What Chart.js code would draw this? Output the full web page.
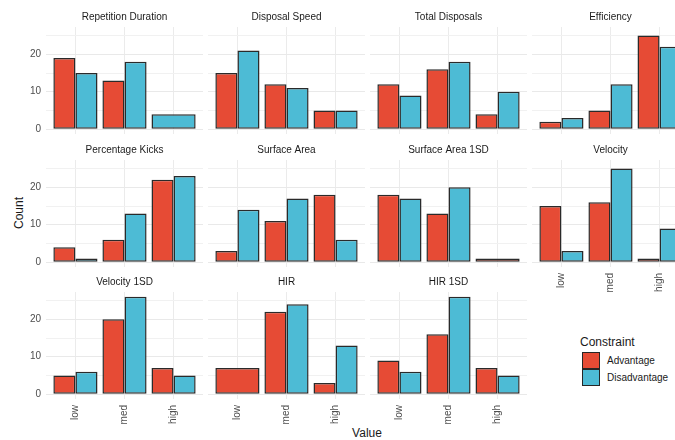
<!DOCTYPE html>
<html>
<head>
<meta charset="utf-8">
<script src="https://cdn.jsdelivr.net/npm/chart.js@4.4.1/dist/chart.umd.min.js"></script>
<style>
  body { margin: 0; background: #fff; overflow: hidden; font-family: "Liberation Sans", Arial, sans-serif; }
  #plot { position: relative; width: 675px; height: 440px; overflow: hidden; background: #fff; }
  .panel { position: absolute; width: 197px; height: 159px; }
  .axis-title { position: absolute; font-size: 12px; color: #1a1a1a; white-space: nowrap; }
  #legend { position: absolute; left: 580px; top: 335px; color: #1a1a1a; }
  #legend .ttl { font-size: 12px; margin-bottom: 3px; }
  #legend .row { display: flex; align-items: center; height: 17px; font-size: 10px; }
  #legend .key { width: 16px; height: 15px; border: 1px solid #262626; margin: 0 7px 0 2px; }
</style>
</head>
<body>
<div id="plot">
  <div class="axis-title" style="left:19px;top:213px;transform:translate(-50%,-50%) rotate(-90deg);">Count</div>
  <div class="axis-title" style="left:367px;top:433px;transform:translate(-50%,-50%);">Value</div>
  <div id="legend">
    <div class="ttl">Constraint</div>
    <div class="row"><div class="key" style="background:#E64B35"></div>Advantage</div>
    <div class="row"><div class="key" style="background:#4DBBD5"></div>Disadvantage</div>
  </div>
</div>

<script>
// Facettes et niveaux
const facets = ['Repetition Duration', 'Disposal Speed', 'Total Disposals', 'Efficiency',
                'Percentage Kicks', 'Surface Area', 'Surface Area 1SD', 'Velocity',
                'Velocity 1SD', 'HIR', 'HIR 1SD'];
const valueLevels = ['low', 'med', 'high'];
const seriesNames = ['Advantage', 'Disadvantage'];

// Comptes par facette : [low, med, high], null = pas de barre
const advantage = [
  [19, 13, null], [15, 12, 5], [12, 16, 4], [2, 5, 25],
  [4, 6, 22], [3, 11, 18], [18, 13, 1], [15, 16, 1],
  [5, 20, 7], [7, 22, 3], [9, 16, 7]
];
const disadvantage = [
  [15, 18, 4], [21, 11, 5], [9, 18, 10], [3, 12, 22],
  [1, 13, 23], [14, 17, 6], [17, 20, null], [3, 25, 9],
  [6, 26, 5], [null, 24, 13], [6, 26, 5]
];

// Graduations
const yTicks = [0, 5, 10, 15, 20, 25];
const xTicks = [1, 2, 3];

const colors = ['#E64B35', '#4DBBD5'];
const colX = [6, 168, 330, 492];
const rowY = [7, 140, 272];

Chart.defaults.font.family = '"Liberation Sans", Arial, sans-serif';
Chart.defaults.animation = false;

const plot = document.getElementById('plot');

facets.forEach((title, i) => {
  const div = document.createElement('div');
  div.className = 'panel';
  div.style.left = colX[i % 4] + 'px';
  div.style.top = rowY[Math.floor(i / 4)] + 'px';
  const canvas = document.createElement('canvas');
  div.appendChild(canvas);
  plot.appendChild(div);

  const showY = i % 4 === 0;
  const showX = i + 4 >= facets.length;

  const datasets = [advantage[i], disadvantage[i]].map((vals, s) => ({
    label: seriesNames[s],
    data: vals.map((v, k) => ({ x: k + 1, y: v })),
    backgroundColor: colors[s],
    borderColor: '#2a2a2a',
    borderWidth: 1.5,
    borderSkipped: false,
    categoryPercentage: 0.9,
    barPercentage: 1,
    skipNull: true
  }));

  new Chart(canvas, {
    type: 'bar',
    data: { datasets },
    options: {
      responsive: true,
      maintainAspectRatio: false,
      layout: { padding: 0 },
      plugins: {
        legend: { display: false },
        tooltip: { enabled: false },
        title: {
          display: true,
          fullSize: false, // centré sur le panneau, pas sur le canvas
          text: title,
          color: '#1a1a1a',
          font: { size: 10, weight: 'normal' },
          padding: { top: 4, bottom: 4 }
        }
      },
      scales: {
        x: {
          type: 'linear',
          min: 0.4,
          max: 3.6,
          offset: false,
          afterBuildTicks: a => { a.ticks = xTicks.map(v => ({ value: v })); },
          afterFit: a => { a.height = 32; },
          grid: { offset: false, color: '#ebebeb', drawTicks: false },
          border: { display: false },
          ticks: {
            display: showX,
            autoSkip: false,
            minRotation: 90,
            maxRotation: 90,
            padding: 6,
            color: '#4d4d4d',
            font: { size: 10 },
            callback: v => valueLevels[v - 1]
          }
        },
        y: {
          min: -1.3,
          max: 27.3,
          afterBuildTicks: a => { a.ticks = yTicks.map(v => ({ value: v })); },
          afterFit: a => { a.width = 40; },
          grid: {
            drawTicks: false,
            color: c => (c.tick && c.tick.value % 10 === 0) ? '#e9e9e9' : '#f1f1f1'
          },
          border: { display: false },
          ticks: {
            display: showY,
            padding: 5,
            color: '#4d4d4d',
            font: { size: 10 },
            callback: v => (v % 10 === 0 ? v : '')
          }
        }
      }
    }
  });
});
</script>
</body>
</html>
